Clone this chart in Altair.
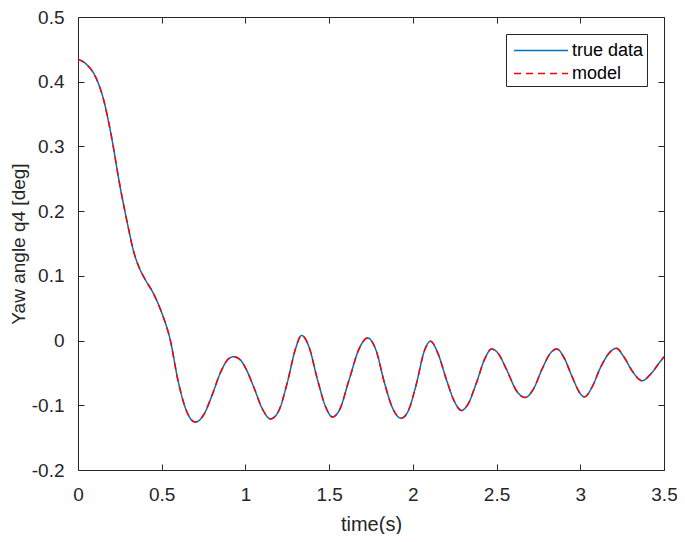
import altair as alt
import pandas as pd

# time samples (s) and yaw angle values
time_s = [0.00, 0.05, 0.10, 0.15, 0.20, 0.25, 0.30, 0.33, 0.37, 0.40, 0.45, 0.50,
          0.55, 0.60, 0.65, 0.70, 0.75, 0.80, 0.85, 0.90, 0.93, 0.97, 1.00, 1.05,
          1.10, 1.15, 1.20, 1.25, 1.30, 1.335, 1.38, 1.43, 1.48, 1.52, 1.56, 1.62,
          1.68, 1.73, 1.78, 1.83, 1.88, 1.93, 1.97, 2.02, 2.07, 2.105, 2.15, 2.20,
          2.25, 2.29, 2.33, 2.38, 2.43, 2.47, 2.51, 2.56, 2.62, 2.67, 2.72, 2.77,
          2.82, 2.86, 2.90, 2.95, 3.00, 3.025, 3.07, 3.12, 3.17, 3.215, 3.26, 3.31,
          3.37, 3.42, 3.47, 3.50]
true_data = [0.435, 0.427, 0.410, 0.375, 0.315, 0.240, 0.175, 0.140, 0.110, 0.095, 0.073, 0.043,
             0.002, -0.065, -0.110, -0.126, -0.115, -0.085, -0.050, -0.028, -0.025, -0.030, -0.042, -0.072,
             -0.105, -0.121, -0.108, -0.065, -0.012, 0.008, -0.010, -0.060, -0.103, -0.118, -0.108, -0.060,
             -0.012, 0.004, -0.015, -0.065, -0.105, -0.120, -0.110, -0.068, -0.015, -0.001, -0.020, -0.060,
             -0.095, -0.108, -0.098, -0.065, -0.028, -0.013, -0.020, -0.045, -0.078, -0.088, -0.075, -0.045,
             -0.020, -0.013, -0.025, -0.055, -0.082, -0.087, -0.072, -0.042, -0.020, -0.012, -0.025, -0.047,
             -0.062, -0.052, -0.035, -0.025]
model = list(true_data)

series_names = ["true data", "model"]
series_colors = ["#0072BD", "#FF0000"]
x_ticks = [0, 0.5, 1, 1.5, 2, 2.5, 3, 3.5]
y_ticks = [-0.2, -0.1, 0, 0.1, 0.2, 0.3, 0.4, 0.5]

df = pd.concat([
    pd.DataFrame({"t": time_s, "y": true_data, "series": "true data"}),
    pd.DataFrame({"t": time_s, "y": model, "series": "model"}),
])

FONT = "Liberation Sans"
TXT = "#262626"
TICK = 6

xscale = alt.Scale(domain=[0, 3.5], nice=False, zero=False)
yscale = alt.Scale(domain=[-0.2, 0.5], nice=False, zero=False)

color = alt.Color("series:N", scale=alt.Scale(domain=series_names, range=series_colors),
                  legend=alt.Legend(title=None, orient="top-right", offset=17,
                                    symbolType="M-0.68,0H3.64", symbolSize=625,
                                    symbolStrokeWidth=1.5,
                                    labelFont=FONT, labelFontSize=18, labelColor="#000000",
                                    padding=3, rowPadding=0, labelOffset=36,
                                    fillColor="white", strokeColor=TXT))
dash = alt.StrokeDash("series:N", scale=alt.Scale(domain=series_names, range=[[1, 0], [7, 5]]),
                      legend=None)

ylabel_expr = ("datum.value == 0 ? '0' : (datum.value < 0 ? '-' + format(-datum.value, '.1f') "
               ": format(datum.value, '.1f'))")

ax_common = dict(domain=False, grid=False, ticks=True, tickSize=TICK, tickColor=TXT,
                 tickWidth=1, offset=-TICK)

lab_x = alt.Axis(orient="bottom", values=x_ticks, format=".1~f", labelFlush=False,
                 labelOverlap=False,
                 labelFont=FONT, labelFontSize=19, labelColor=TXT, labelPadding=9 + TICK,
                 title="time(s)", titleFont=FONT, titleFontSize=20, titleFontWeight="normal",
                 titleColor=TXT, titlePadding=10, **ax_common)
lab_y = alt.Axis(orient="left", values=y_ticks, labelExpr=ylabel_expr, labelFlush=False,
                 labelOverlap=False,
                 labelFont=FONT, labelFontSize=19, labelColor=TXT, labelPadding=8 + TICK,
                 title="Yaw angle q4 [deg]", titleFont=FONT, titleFontSize=19,
                 titleFontWeight="normal", titleColor=TXT, titlePadding=3, **ax_common)

top_x = alt.Axis(orient="top", values=x_ticks, labels=False, title=None, **ax_common)
right_y = alt.Axis(orient="right", values=y_ticks, labels=False, title=None, **ax_common)

base = alt.Chart(df)

true_layer = base.transform_filter(alt.datum.series == "true data").mark_line(
    strokeWidth=1.5, interpolate="monotone").encode(
    x=alt.X("t:Q", scale=xscale, axis=lab_x),
    y=alt.Y("y:Q", scale=yscale, axis=lab_y),
    color=color, strokeDash=dash)

model_layer = base.transform_filter(alt.datum.series == "model").mark_line(
    strokeWidth=1.5, interpolate="monotone").encode(
    x=alt.X("t:Q", scale=xscale, axis=top_x),
    y=alt.Y("y:Q", scale=yscale, axis=right_y),
    color=color, strokeDash=dash)

chart = alt.layer(true_layer, model_layer).resolve_axis(
    x="independent", y="independent"
).properties(
    width=586, height=453, background="white",
    autosize=alt.AutoSizeParams(type="none"),
    padding={"left": 70, "top": 9, "right": 13, "bottom": 64}
).configure_view(
    stroke=TXT, strokeWidth=1
)

chart.save("out.html", embed_options={"renderer": "svg", "actions": False})
